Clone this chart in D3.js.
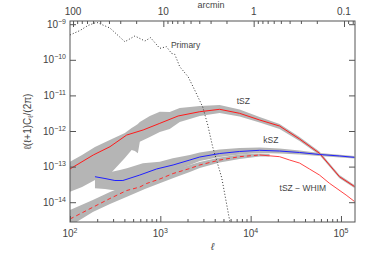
<!DOCTYPE html>
<html>
<head>
<meta charset="utf-8">
<script src="https://cdn.jsdelivr.net/npm/d3@7"></script>
<style>
  body { margin: 0; background: #fff; }
  text { font-family: "Liberation Sans", Arial, sans-serif; fill: #444; }
</style>
</head>
<body>
<div id="chart"></div>
<script>
// multipoles and C_l values
var ellPrimary = [100, 129, 158, 197, 277, 405, 523, 675, 780, 986, 1170, 1330, 1445, 1640, 2030, 2400, 2950, 3350, 3800, 4790, 6000];
var clPrimary = [4.98e-10, 6.65e-10, 9.2e-10, 1.13e-9, 7.8e-10, 3.22e-10, 4.67e-10, 3.37e-10, 4.18e-10, 2.1e-10, 2.33e-10, 1.52e-10, 1.43e-10, 6.4e-11, 3.35e-11, 1.42e-11, 4.7e-12, 1.48e-12, 3.56e-13, 4.8e-14, 2.2e-15];

var ellTsz = [100, 181, 277, 424, 646, 986, 1575, 2730, 4540, 7550, 12560, 20900, 34800, 57800, 96200, 141000];
var clTsz = [8.6e-14, 2.12e-13, 3.62e-13, 7.7e-13, 1.07e-12, 1.64e-12, 2.64e-12, 3.48e-12, 4.07e-12, 3.14e-12, 2.04e-12, 1.38e-12, 5.96e-13, 2.37e-13, 5.2e-14, 2.76e-14];
var ellTszBand = [100, 136, 189, 291, 405, 481, 523, 564, 593, 765, 986, 1270, 1640, 2120, 2730, 4540, 7550, 12560, 20900, 34800, 57800, 96200, 141000];
var tszHi = [1.37e-13, 2.12e-13, 3.56e-13, 5.96e-13, 8.8e-13, 1.21e-12, 1.38e-12, 1.57e-12, 1.79e-12, 2.64e-12, 3.48e-12, 3.42e-12, 4.43e-12, 4.72e-12, 5.04e-12, 5.37e-12, 4.02e-12, 2.47e-12, 1.57e-12, 6.78e-13, 2.65e-13, 5.8e-14, 3.04e-14];
var tszLo = [1.97e-14, 2.67e-14, 4.2e-14, 7.05e-14, 1.75e-13, 2.92e-13, 2.74e-13, 2.36e-13, 5.0e-13, 6.78e-13, 9.37e-13, 1.14e-12, 1.79e-12, 2.17e-12, 2.64e-12, 3.2e-12, 2.55e-12, 1.73e-12, 1.14e-12, 5.23e-13, 2.12e-13, 4.69e-14, 2.5e-14];

var ellKsz = [189, 244, 314, 385, 593, 908, 1385, 2120, 2730, 4540, 7550, 12560, 20900, 34800, 57800, 96200, 141000];
var clKsz = [5.2e-14, 4.63e-14, 4.07e-14, 4.07e-14, 5.8e-14, 8.57e-14, 1.11e-13, 1.53e-13, 1.86e-13, 2.33e-13, 2.66e-13, 2.87e-13, 2.74e-13, 2.49e-13, 2.19e-13, 1.99e-13, 1.82e-13];
var ellKszBand = [189, 244, 291, 357, 427, 641, 986, 1375, 2120, 2730, 4540, 7550, 12560, 20900, 34800, 57800, 141000];
var kszHi = [7.05e-14, 7.05e-14, 7.19e-14, 8.02e-14, 8.95e-14, 1.24e-13, 1.37e-13, 1.71e-13, 2.12e-13, 2.49e-13, 3.02e-13, 3.33e-13, 3.44e-13, 3.22e-13, 2.83e-13, 2.41e-13, 1.99e-13];
var kszLo = [2.45e-14, 2.35e-14, 2.2e-14, 2.2e-14, 2.67e-14, 3.77e-14, 5.8e-14, 7.52e-14, 1.11e-13, 1.44e-13, 1.86e-13, 2.19e-13, 2.41e-13, 2.33e-13, 2.19e-13, 1.99e-13, 1.69e-13];

var ellWhim = [100, 181, 277, 424, 593, 704, 986, 1385, 2120, 2730, 4540, 7550, 12560, 20900, 27000, 34800, 44800, 57800, 74600, 114000, 141000];
var clWhim = [3.37e-15, 7.33e-15, 1.27e-14, 2.13e-14, 2.67e-14, 3.35e-14, 4.48e-14, 6.4e-14, 8.85e-14, 1.11e-13, 1.53e-13, 1.9e-13, 2.12e-13, 1.9e-13, 1.53e-13, 1.26e-13, 8.57e-14, 5.8e-14, 3.4e-14, 1.59e-14, 1.05e-14];
var ellWhimBand = [100, 179, 277, 427, 675, 986, 1445, 2120, 2730, 4540, 7550, 12560, 16200];
var whimHi = [6.04e-15, 1.15e-14, 1.94e-14, 3.04e-14, 4.48e-14, 6.48e-14, 8.57e-14, 1.11e-13, 1.35e-13, 1.8e-13, 2.19e-13, 2.33e-13, 2.26e-13];
var whimLo = [2.14e-15, 5.3e-15, 8.9e-15, 1.43e-14, 2.35e-14, 3.4e-14, 4.94e-14, 7.05e-14, 9.14e-14, 1.3e-13, 1.63e-13, 1.92e-13, 1.92e-13];
var whimDashEnd = 12560; // dashed (simulation) part ends here

var xTicks = [1e2, 1e3, 1e4, 1e5];
var xTickExp = ["2", "3", "4", "5"];
var yTicks = [1e-9, 1e-10, 1e-11, 1e-12, 1e-13, 1e-14];
var yTickExp = ["\u22129", "\u221210", "\u221211", "\u221212", "\u221213", "\u221214"];
var arcTicks = [100, 10, 1, 0.1];
var arcTickLabels = ["100", "10", "1", "0.1"];

function renderChart() {
	var W = 374, H = 260;
	var mLeft = 70, mRight = 355, mTop = 21, mBottom = 222;

	var svg = d3.select("#chart").append("svg")
		.attr("width", W)
		.attr("height", H);

	var x = d3.scaleLog().domain([100, 1.43e5]).range([mLeft, mRight]);
	var y = d3.scaleLog().domain([2.78e-15, 1.23e-9]).range([mBottom, mTop]);
	// angular scale: theta[arcmin] = 10800 / ell
	var xArc = d3.scaleLog().domain([10800 / 100, 10800 / 1.43e5]).range([mLeft, mRight]);

	svg.append("clipPath").attr("id", "clip")
		.append("rect")
		.attr("x", mLeft).attr("y", mTop)
		.attr("width", mRight - mLeft).attr("height", mBottom - mTop);

	var plot = svg.append("g").attr("clip-path", "url(#clip)");

	function pts(ells, vals) {
		return ells.map(function (l, i) { return { l: l, v: vals[i] }; });
	}
	function band(ells, lo, hi) {
		return ells.map(function (l, i) { return { l: l, lo: lo[i], hi: hi[i] }; });
	}

	var area = d3.area()
		.x(function (d) { return x(d.l); })
		.y0(function (d) { return y(d.lo); })
		.y1(function (d) { return y(d.hi); });
	var line = d3.line()
		.x(function (d) { return x(d.l); })
		.y(function (d) { return y(d.v); });

	var grey = "#b5b5b5";
	plot.append("path").attr("d", area(band(ellTszBand, tszLo, tszHi))).attr("fill", grey);
	plot.append("path").attr("d", area(band(ellKszBand, kszLo, kszHi))).attr("fill", grey);
	plot.append("path").attr("d", area(band(ellWhimBand, whimLo, whimHi))).attr("fill", grey);

	// primary CMB, dotted
	plot.append("path")
		.attr("d", line(pts(ellPrimary, clPrimary)))
		.attr("fill", "none")
		.attr("stroke", "#333")
		.attr("stroke-width", 1)
		.attr("stroke-dasharray", "1,2");

	plot.append("path")
		.attr("d", line(pts(ellTsz, clTsz)))
		.attr("fill", "none")
		.attr("stroke", "#ff1a1a")
		.attr("stroke-width", 1);

	plot.append("path")
		.attr("d", line(pts(ellKsz, clKsz)))
		.attr("fill", "none")
		.attr("stroke", "#2020ff")
		.attr("stroke-width", 1);

	var whim = pts(ellWhim, clWhim);
	plot.append("path")
		.attr("d", line(whim.filter(function (d) { return d.l <= whimDashEnd; })))
		.attr("fill", "none")
		.attr("stroke", "#ff2a2a")
		.attr("stroke-width", 1)
		.attr("stroke-dasharray", "4,3");
	plot.append("path")
		.attr("d", line(whim.filter(function (d) { return d.l >= whimDashEnd; })))
		.attr("fill", "none")
		.attr("stroke", "#ff3030")
		.attr("stroke-width", 0.9);

	// frame
	var axisColor = "#555";
	svg.append("rect")
		.attr("x", mLeft).attr("y", mTop)
		.attr("width", mRight - mLeft).attr("height", mBottom - mTop)
		.attr("fill", "none")
		.attr("stroke", axisColor);

	function minorTicks(lo, hi) {
		var out = [];
		for (var e = lo; e <= hi; e++) {
			for (var k = 2; k <= 9; k++) out.push(k * Math.pow(10, e));
		}
		return out;
	}

	function styleAxis(g) {
		g.select(".domain").remove();
		g.selectAll("line").attr("stroke", axisColor);
	}

	// bottom axis ticks
	svg.append("g").attr("transform", "translate(0," + mBottom + ")")
		.call(d3.axisBottom(x).tickValues(xTicks).tickSize(-6).tickFormat(""))
		.call(styleAxis);
	svg.append("g").attr("transform", "translate(0," + mBottom + ")")
		.call(d3.axisBottom(x).tickValues(minorTicks(2, 5).filter(function (v) { return v < 1.43e5; })).tickSize(-3).tickFormat(""))
		.call(styleAxis);

	// top axis (arcmin)
	svg.append("g").attr("transform", "translate(0," + mTop + ")")
		.call(d3.axisTop(xArc).tickValues(arcTicks).tickSize(-6).tickFormat(""))
		.call(styleAxis);
	svg.append("g").attr("transform", "translate(0," + mTop + ")")
		.call(d3.axisTop(xArc).tickValues(minorTicks(-2, 1).filter(function (v) { return v > 10800 / 1.43e5 && v < 108; })).tickSize(-3).tickFormat(""))
		.call(styleAxis);

	// left and right axes
	svg.append("g").attr("transform", "translate(" + mLeft + ",0)")
		.call(d3.axisLeft(y).tickValues(yTicks).tickSize(-6).tickFormat(""))
		.call(styleAxis);
	svg.append("g").attr("transform", "translate(" + mRight + ",0)")
		.call(d3.axisRight(y).tickValues(yTicks).tickSize(-6).tickFormat(""))
		.call(styleAxis);

	// tick labels
	var xl = svg.append("g").selectAll("text")
		.data(xTicks)
		.enter().append("text")
		.attr("x", function (d) { return x(d); })
		.attr("y", 236.5)
		.attr("text-anchor", "middle")
		.style("font-size", "10px");
	xl.append("tspan").text("10");
	xl.append("tspan")
		.attr("dy", -4)
		.style("font-size", "7px")
		.text(function (d, i) { return xTickExp[i]; });

	var yl = svg.append("g").selectAll("text")
		.data(yTicks)
		.enter().append("text")
		.attr("x", 66)
		.attr("y", function (d) { return y(d) + 3.5; })
		.attr("text-anchor", "end")
		.style("font-size", "10px");
	yl.append("tspan").text("10");
	yl.append("tspan")
		.attr("dy", -4)
		.style("font-size", "7px")
		.text(function (d, i) { return yTickExp[i]; });

	svg.append("g").selectAll("text")
		.data(arcTicks)
		.enter().append("text")
		.attr("x", function (d) { return xArc(d); })
		.attr("y", 15)
		.attr("text-anchor", "middle")
		.style("font-size", "10px")
		.text(function (d, i) { return arcTickLabels[i]; });

	svg.append("text")
		.attr("x", 211)
		.attr("y", 8)
		.attr("text-anchor", "middle")
		.style("font-size", "9px")
		.text("arcmin");

	// axis titles
	svg.append("text")
		.attr("x", (mLeft + mRight) / 2)
		.attr("y", 250)
		.attr("text-anchor", "middle")
		.style("font-size", "10px")
		.style("font-style", "italic")
		.text("\u2113");

	var yt = svg.append("text")
		.attr("transform", "translate(31," + ((mTop + mBottom) / 2) + ") rotate(-90)")
		.attr("text-anchor", "middle")
		.style("font-size", "10px");
	yt.append("tspan").text("\u2113(\u2113+1)C");
	yt.append("tspan").attr("dy", 2).style("font-size", "7px").text("\u2113");
	yt.append("tspan").attr("dy", -2).text("/(2\u03c0)");

	// curve labels
	var labels = [
		{ t: "Primary", l: 1310, v: 2.15e-10 },
		{ t: "tSZ", l: 7000, v: 5.9e-12 },
		{ t: "kSZ", l: 13800, v: 4.6e-13 },
		{ t: "tSZ \u2212 WHIM", l: 20900, v: 2.05e-14 }
	];
	svg.append("g").selectAll("text")
		.data(labels)
		.enter().append("text")
		.attr("x", function (d) { return x(d.l); })
		.attr("y", function (d) { return y(d.v); })
		.style("font-size", "8.5px")
		.text(function (d) { return d.t; });
}

renderChart();
</script>
</body>
</html>
